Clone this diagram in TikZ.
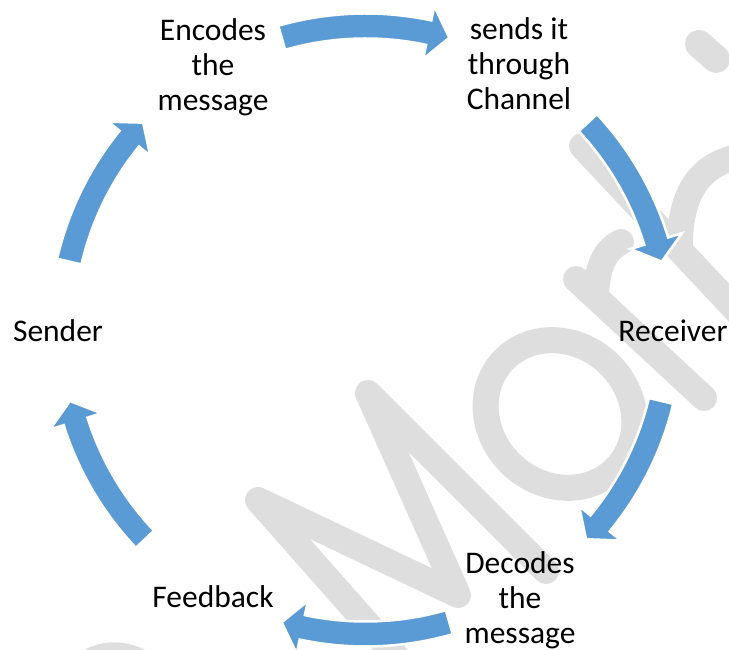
\documentclass[tikz,border=0pt]{standalone}
\usepackage{fontspec}
\setmainfont{Carlito}
\usetikzlibrary{calc}
\definecolor{arrowblue}{RGB}{91,155,213}
\definecolor{wmgray}{RGB}{222,222,222}
\newcommand{\cycarrow}[2]{%
  \pgfmathsetmacro{\cyhb}{#2+4}%
  \path[cyclearrow] ($(C)+(#1:316.5)$) arc[start angle=#1, end angle=\cyhb, radius=316.5]
    -- ($(C)+(\cyhb:331)$) -- ($(C)+(#2:304)$) -- ($(C)+(\cyhb:277)$)
    -- ($(C)+(\cyhb:291.5)$) arc[start angle=\cyhb, end angle=#1, radius=291.5] -- cycle;}
\begin{document}
\begin{tikzpicture}[x=1pt,y=1pt,
  cyclearrow/.style={fill=arrowblue, draw=white, line width=2.5pt, line join=miter},
  wm/.style={draw=wmgray, line width=26pt, line cap=round, line join=round},
  lbl/.style={font=\fontsize{31.5}{35}\selectfont, align=center, inner sep=0pt, text=black}]
\useasboundingbox (0,0) rectangle (729,650);
\clip (0,0) rectangle (729,650);
\coordinate (C) at (365.5,320);
% watermark
\begin{scope}[shift={(0,650)}, yscale=-1]
  \draw[wm] (410,672) -- (258,500) -- (458,595) -- (368,393) -- (546,571);
  \draw[wm] (576,279) -- (704,398);
  \draw[wm] (596,293) .. controls (598,265) and (605,250) .. (621,242);
  \draw[wm] (582,146) -- (780,357);
  \draw[wm] (680,250) .. controls (679,200) and (695,162) .. (745,156);
  \draw[wm, line width=28pt] (699,44) -- (716,59);
  \draw[wm] (75,675) .. controls (95,650) and (125,650) .. (150,668);
\end{scope}
\coordinate (oc) at (560,236);
\draw[wm, rotate around={47:(oc)}] (oc) ellipse[x radius=70, y radius=78];
% arrows
\cycarrow{106}{74}
\cycarrow{43}{13}
\cycarrow{-13.5}{-43.5}
\cycarrow{-74}{-106}
\cycarrow{-136.5}{-166.5}
\cycarrow{167}{137}
% labels
\node[lbl, anchor=base] (sender) at (58,308) {Sender};
\node[lbl, anchor=base] (receiver) at (673,308) {Receiver};
\node[lbl, anchor=base] (feedback) at (213,42) {Feedback};
\node[lbl] (encode) at (213,583) {Encodes\\the\\message};
\node[lbl] (channel) at (519,586) {sends it\\through\\Channel};
\node[lbl] (decode) at (520,50) {Decodes\\the\\message};
\end{tikzpicture}
\end{document}
